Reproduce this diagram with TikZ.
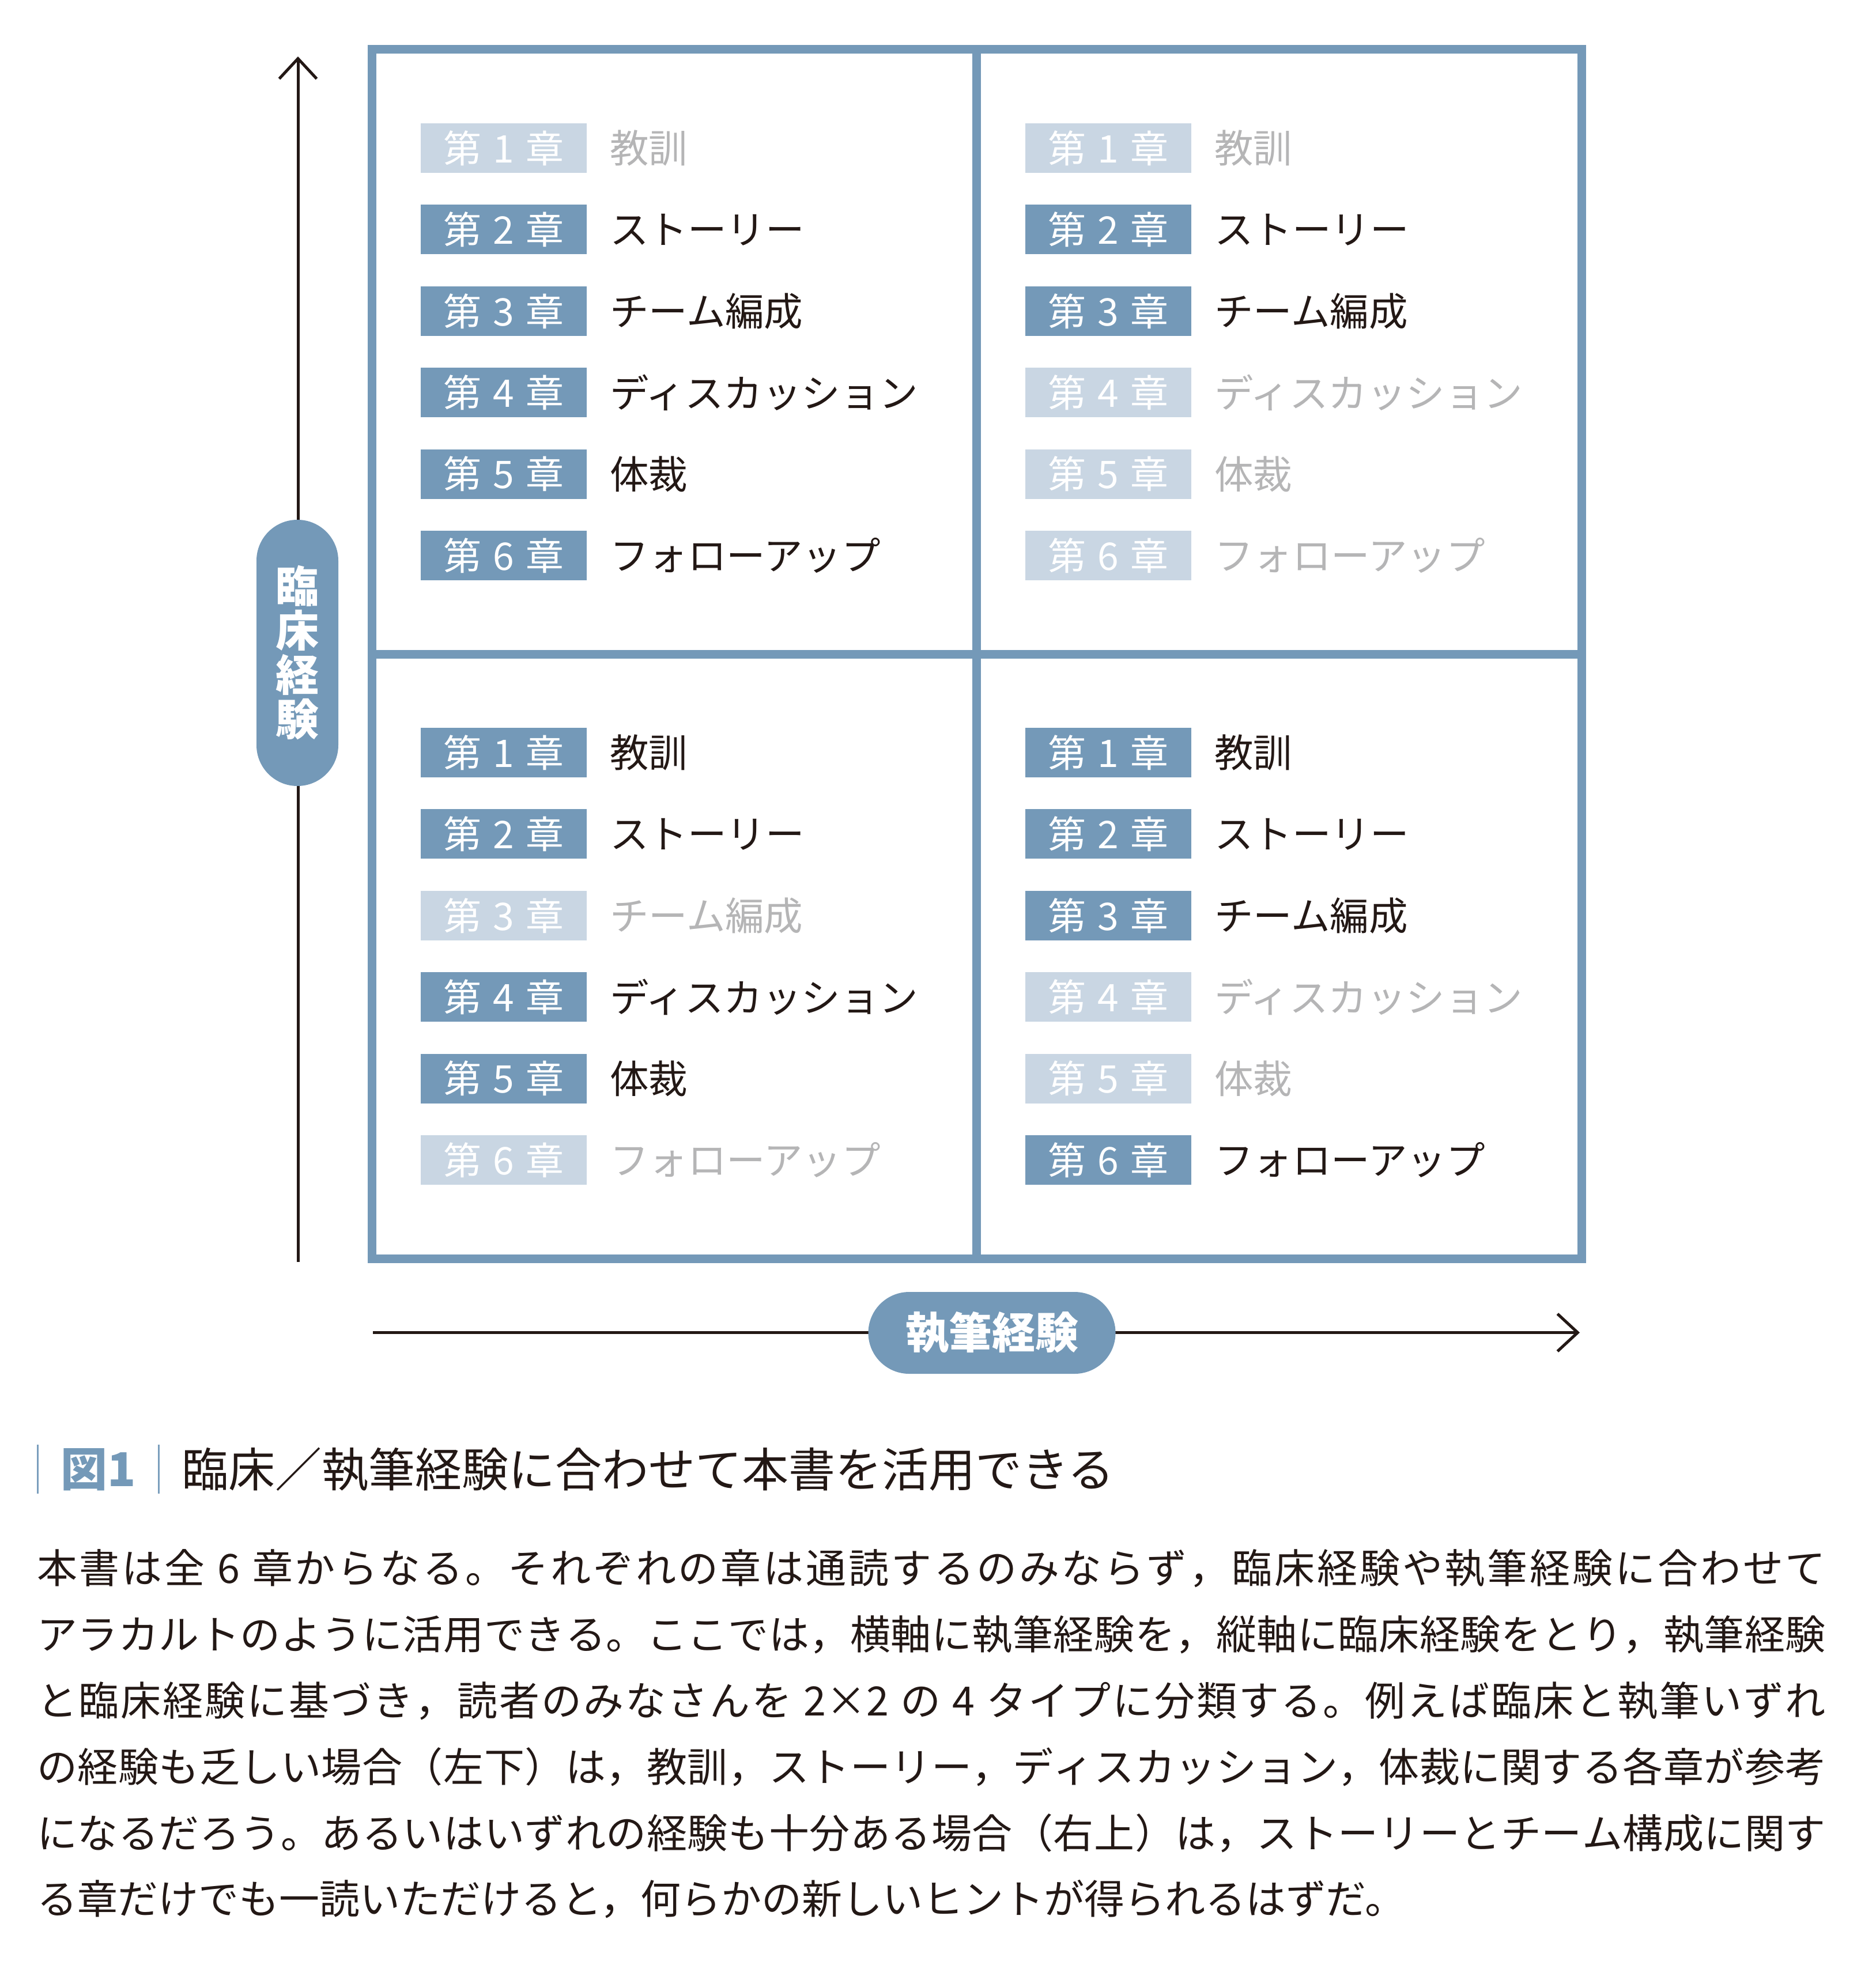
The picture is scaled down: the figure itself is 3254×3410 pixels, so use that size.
\documentclass[tikz,border=0pt]{standalone}
\usepackage{fontspec}
\setmainfont{Noto Sans CJK JP}
\usetikzlibrary{arrows.meta}
\definecolor{frameblue}{HTML}{7499B8}
\definecolor{lightbox}{HTML}{C9D6E3}
\definecolor{graytext}{HTML}{B5B5B6}
\definecolor{inkblack}{HTML}{231815}
\definecolor{barblue}{HTML}{7A9EBD}
% inter-character glue for justified Japanese lines
\newXeTeXintercharclass\jpcls
\makeatletter
\def\setjpcls#1#2{\count@=#1\relax
  \loop\XeTeXcharclass\count@=\jpcls\relax
  \ifnum\count@<#2\relax\advance\count@\@ne\repeat}
\setjpcls{"3000}{"30FF}
\setjpcls{"4E00}{"9FFF}
\setjpcls{"FF01}{"FF5E}
\makeatother
\XeTeXinterchartoks\jpcls\jpcls={\hskip0pt plus 1pt minus 0.5pt\relax}
\XeTeXinterchartoks\jpcls 0={\hskip0pt plus 1pt\relax}
\XeTeXinterchartoks 0\jpcls={\hskip0pt plus 1pt\relax}
\newcommand\bodyline[1]{{\XeTeXinterchartokenstate=1 \makebox[620.8pt][s]{#1}}}
\newcommand\chaprow[6]{%
  \node[chapbox,#6box] (#1l) at (#2,#3) {第\hspace{0.3em}#4\hspace{0.3em}章};
  \node[chaptitle,#6text] (#1t) at (#2+183,#3) {#5};
}
\newcommand\quadrant[9]{%
  \chaprow{#1-1}{#2}{#3}{1}{教訓}{#4}
  \chaprow{#1-2}{#2}{#3+141.4}{2}{ストーリー}{#5}
  \chaprow{#1-3}{#2}{#3+282.8}{3}{チーム編成}{#6}
  \chaprow{#1-4}{#2}{#3+424.2}{4}{ディスカッション}{#7}
  \chaprow{#1-5}{#2}{#3+565.6}{5}{体裁}{#8}
  \chaprow{#1-6}{#2}{#3+707}{6}{フォローアップ}{#9}
}
\tikzset{
  frame/.style={draw=frameblue, line width=3pt},
  axis/.style={draw=inkblack, line width=1pt, -{Straight Barb[length=7pt,width=13pt]}},
  chapbox/.style={minimum width=57.6pt, minimum height=17.2pt, inner sep=0pt,
    text=white, font=\fontsize{13.2pt}{13.2pt}\selectfont},
  onbox/.style={fill=frameblue},
  offbox/.style={fill=lightbox},
  chaptitle/.style={anchor=west, inner sep=0pt, font=\fontsize{13.5pt}{13.5pt}\selectfont},
  ontext/.style={text=inkblack},
  offtext/.style={text=graytext},
  pill/.style={fill=frameblue, text=white, inner sep=0pt, rounded corners=14.2pt,
    font=\fontsize{15pt}{15.4pt}\selectfont\bfseries},
  bodytext/.style={anchor=west, inner sep=0pt, text=inkblack,
    font=\fontsize{14pt}{14pt}\selectfont},
}
\begin{document}
\begin{tikzpicture}[x=0.2pt, y=-0.2pt]
\useasboundingbox[fill=white] (0,0) rectangle (3254,3410);
% frame
\draw[frame] (645,86) rectangle (2744,2184);
\draw[frame] (1694.5,86) -- (1694.5,2184);
\draw[frame] (645,1135) -- (2744,1135);
% quadrants
\quadrant{a}{874}{257}{off}{on}{on}{on}{on}{on}
\quadrant{b}{1923}{257}{off}{on}{on}{off}{off}{off}
\quadrant{c}{874}{1306}{on}{on}{off}{on}{on}{off}
\quadrant{d}{1923}{1306}{on}{on}{on}{off}{off}{on}
% axes
\coordinate (vbot) at (517,2190);
\coordinate (vtop) at (517,98);
\draw[axis] (vbot) -- (vtop);
\coordinate (hleft) at (647,2312.5);
\coordinate (hright) at (2741,2312.5);
\draw[axis] (hleft) -- (hright);
\node[pill, minimum width=28.4pt, minimum height=92.4pt, align=center] (vpill) at (516,1133) {臨\\床\\経\\験};
\node[pill, minimum width=85.8pt, minimum height=28.4pt] (hpill) at (1721,2313) {執筆経験};
% caption
\draw[barblue, line width=0.6pt] (65,2507) -- (65,2592);
\draw[barblue, line width=0.6pt] (275,2507) -- (275,2592);
\node[anchor=west, inner sep=0pt, text=frameblue, font=\fontsize{16.2pt}{16.2pt}\selectfont\bfseries] (fig) at (104,2550) {図1};
\node[anchor=west, inner sep=0pt, text=inkblack, font=\fontsize{16.2pt}{16.2pt}\selectfont] (cap) at (314,2550) {臨床／執筆経験に合わせて本書を活用できる};
% body
\node[bodytext] (l1) at (63,2722) {\bodyline{本書は全 6 章からなる。それぞれの章は通読するのみならず，臨床経験や執筆経験に合わせて}};
\node[bodytext] (l2) at (63,2837) {\bodyline{アラカルトのように活用できる。ここでは，横軸に執筆経験を，縦軸に臨床経験をとり，執筆経験}};
\node[bodytext] (l3) at (63,2952) {\bodyline{と臨床経験に基づき，読者のみなさんを 2×2 の 4 タイプに分類する。例えば臨床と執筆いずれ}};
\node[bodytext] (l4) at (63,3066) {\bodyline{の経験も乏しい場合（左下）は，教訓，ストーリー，ディスカッション，体裁に関する各章が参考}};
\node[bodytext] (l5) at (63,3181) {\bodyline{になるだろう。あるいはいずれの経験も十分ある場合（右上）は，ストーリーとチーム構成に関す}};
\node[bodytext] (l6) at (63,3296) {る章だけでも一読いただけると，何らかの新しいヒントが得られるはずだ。};
\end{tikzpicture}
\end{document}
